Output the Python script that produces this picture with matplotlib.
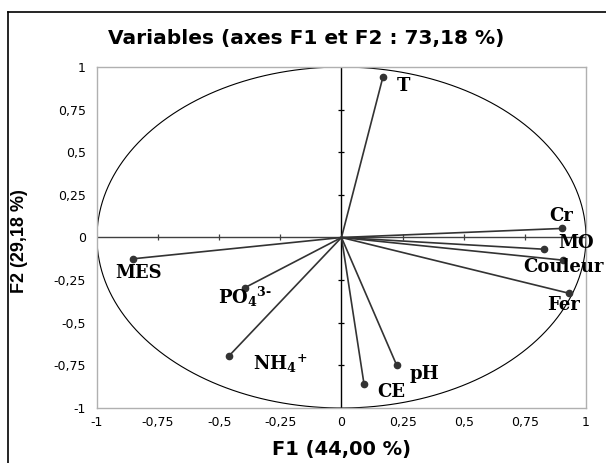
import numpy as np
import matplotlib
matplotlib.use("Agg")
import matplotlib.pyplot as plt

plt.rcParams['font.family'] = ['DejaVu Sans']
plt.rcParams['mathtext.fontset'] = 'custom'
plt.rcParams['mathtext.rm'] = 'DejaVu Serif:bold'
plt.rcParams['mathtext.it'] = 'DejaVu Serif:bold'

# variables on the F1/F2 correlation circle
names = ['T', 'Cr', 'MO', 'Couleur', 'Fer', 'pH', 'CE', 'MES',
         r'PO$_\mathrm{4}$$^{\text{3-}}$', r'NH$_\mathrm{4}$$^\mathrm{+}$']
f1 = [0.17, 0.90, 0.83, 0.907, 0.93, 0.226, 0.092, -0.853, -0.396, -0.461]
f2 = [0.944, 0.053, -0.069, -0.133, -0.327, -0.75, -0.858, -0.125, -0.295, -0.696]

ticks = [-1, -0.75, -0.5, -0.25, 0, 0.25, 0.5, 0.75, 1]
tick_labels = ['-1', '-0,75', '-0,5', '-0,25', '0', '0,25', '0,5', '0,75', '1']

# label offsets in pixels (left edge, vertical centre)
offs = [(14, -9), (-12, 12), (14, 6), (-40, -7), (-22, -12),
        (13, -9), (13, -8), (-18, -14), (-27, -9), (24, -8)]

fig = plt.figure(figsize=(6.06, 4.63), dpi=100)
ax = fig.add_axes([0.160, 0.1188, 0.807, 0.7365])

# outer chart border (cropped at right and bottom)
fig.add_artist(plt.Line2D([8/606, 8/606], [-0.1, 1 - 12/463], color='black', lw=1.2,
                          transform=fig.transFigure))
fig.add_artist(plt.Line2D([8/606, 1.1], [1 - 12/463, 1 - 12/463], color='black', lw=1.2,
                          transform=fig.transFigure))

th = np.linspace(0, 2*np.pi, 400)
ax.plot(np.cos(th), np.sin(th), color='black', lw=0.8)

ax.axhline(0, color='#404040', lw=1.0)
ax.axvline(0, color='black', lw=1.0)
inner = [t for t in ticks if t not in (-1, 0, 1)]
ax.plot(inner, [0]*len(inner), ls='none', marker='|', ms=5, color='#404040', mew=0.9)
ax.plot([0]*len(inner), inner, ls='none', marker='_', ms=5, color='black', mew=0.9)

for x, y, n, o in zip(f1, f2, names, offs):
    ax.plot([0, x], [0, y], color='#333333', lw=1.2)
    ax.plot(x, y, 'o', color='#333333', ms=4.5)
    ax.annotate(n, (x, y), xytext=o, textcoords='offset pixels', ha='left', va='center',
                fontsize=13, fontweight='bold', family='DejaVu Serif')

ax.set_xlim(-1, 1)
ax.set_ylim(-1, 1)
ax.set_xticks(ticks)
ax.set_xticklabels(tick_labels)
ax.set_yticks(ticks)
ax.set_yticklabels(tick_labels)
ax.tick_params(length=0, labelsize=9, pad=8)
ax.tick_params(axis='x', pad=6)
for s in ax.spines.values():
    s.set_color('#b0b0b0')
    s.set_linewidth(1.0)

ax.set_xlabel('F1 (44,00 %)', fontsize=14, fontweight='bold', labelpad=8)
ax.set_ylabel('F2 (29,18 %)', fontsize=13, fontweight='bold', family='Liberation Sans')
ax.yaxis.set_label_coords(-0.141, 0.49)
fig.text(0.505, 0.916, 'Variables (axes F1 et F2 : 73,18 %)', ha='center', va='center',
         fontsize=14.5, fontweight='bold')

fig.savefig('out.png', dpi=100)
